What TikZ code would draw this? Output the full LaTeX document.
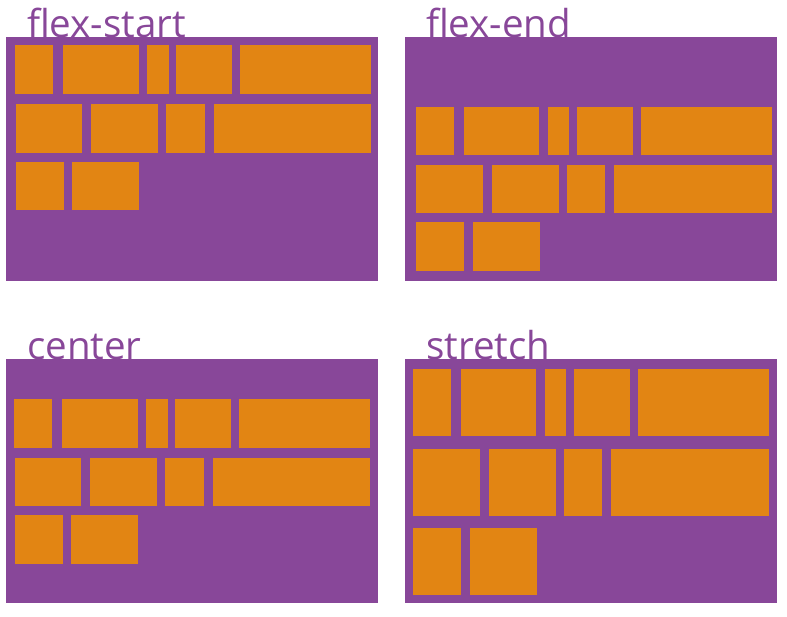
\documentclass[tikz,border=0pt]{standalone}
\usepackage{fontspec}
\newfontfamily\labelfont{Open Sans}
\usepackage{tikz}
\tikzset{
    flexbase/.style={
        x=1pt, y=-1pt,
        line cap = round, line join = round,
    },
    panellabel/.style={
        anchor=base west, inner sep=0pt, text=boxpurple,
        font=\labelfont\fontsize{38.5}{40}\selectfont
    }
}
\definecolor{boxpurple}{RGB}{136,71,153}
\definecolor{itemorange}{RGB}{226,133,19}
\newcommand{\container}[2]{%
    \fill[boxpurple] (#1,#2) rectangle ++(372,244);
}
\newcommand{\flexitem}[4]{%
    \fill[itemorange] (#1,#2) rectangle (#3,{#2+#4});
}
% #1 = x of first item, #2,#3,#4 = row tops, #5 = row height
\newcommand{\flexitems}[5]{%
\begin{scope}[shift={(#1,0)}]
    \flexitem{0}{#2}{38}{#5}
    \flexitem{48}{#2}{123.5}{#5}
    \flexitem{132}{#2}{153.5}{#5}
    \flexitem{161}{#2}{217}{#5}
    \flexitem{225}{#2}{356}{#5}
    \flexitem{0.5}{#3}{67}{#5}
    \flexitem{76}{#3}{143}{#5}
    \flexitem{151}{#3}{189.5}{#5}
    \flexitem{198.5}{#3}{356}{#5}
    \flexitem{0.5}{#4}{48.5}{#5}
    \flexitem{57}{#4}{124}{#5}
\end{scope}}

\begin{document}
\begin{tikzpicture}
        [flexbase]
\useasboundingbox (0,0) rectangle (787,616);
\node[panellabel] (lbl-start) at (27,37.5) {flex-start};
\node[panellabel] (lbl-end) at (426,37.5) {flex-end};
\node[panellabel] (lbl-center) at (27,359.8) {center};
\node[panellabel] (lbl-stretch) at (426,359.8) {stretch};
\container{6}{37};
\container{405}{37};
\container{6}{359.3};
\container{405}{359.3};
\flexitems{15}{45}{104}{161.7}{48.7};
\flexitems{415.7}{106.7}{164.7}{222}{48.5};
\flexitems{14}{399.3}{457.7}{515.3}{48.5};
\flexitems{412.7}{369.3}{449.3}{528.3}{67};
\end{tikzpicture}
\end{document}
